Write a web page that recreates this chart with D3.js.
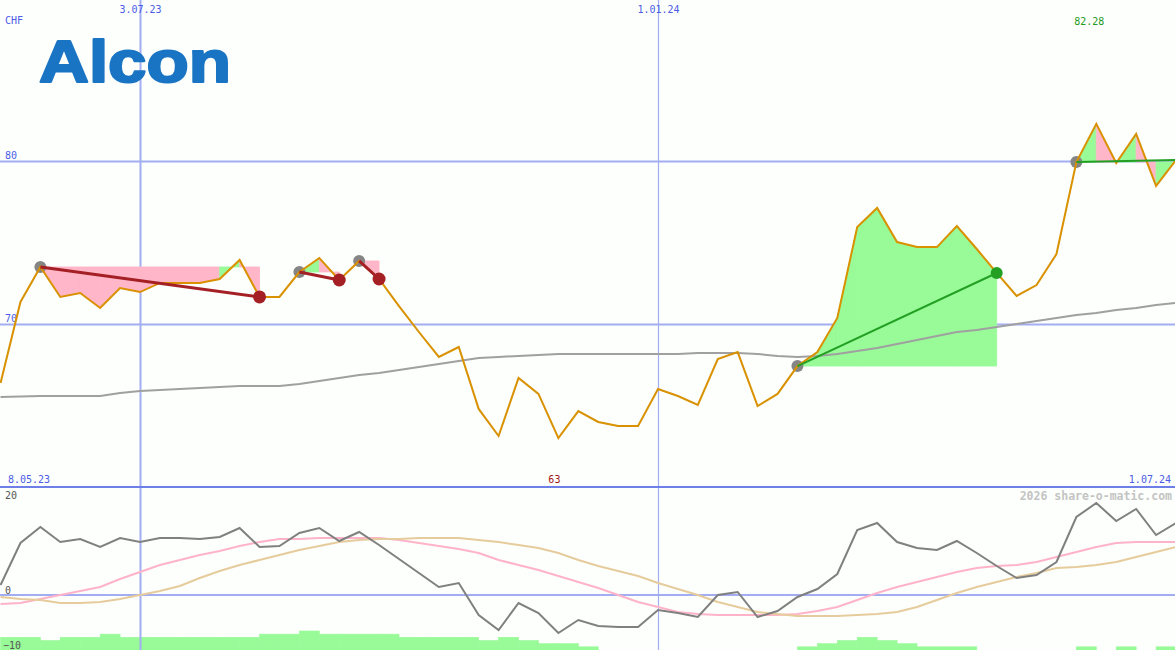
<!DOCTYPE html>
<html><head><meta charset="utf-8">
<script src="https://cdn.jsdelivr.net/npm/d3@7"></script>
<style>html,body{margin:0;padding:0;background:#fcfffc;} svg{display:block;}</style>
</head><body>
<svg id="c" width="1175" height="650"></svg>
<script>
// ---------- data ----------
const startDate = "2023-05-15";   // first weekly point
const price = [66.38, 71.35, 73.50, 71.66, 71.90, 70.98, 72.21, 71.96, 72.52, 72.52,
  72.52, 72.76, 73.93, 71.66, 71.66, 73.19, 74.05, 72.70, 73.87, 72.76,
  71.10, 69.51, 67.98, 68.59, 64.79, 63.13, 66.69, 65.71, 63.00, 64.66,
  63.99, 63.74, 63.74, 66.01, 65.58, 65.03, 67.85, 68.28, 64.97, 65.71,
  67.42, 68.28, 70.37, 75.95, 77.12, 75.03, 74.72, 74.72, 76.01, 74.60,
  73.13, 71.72, 72.39, 74.29, 79.94, 82.28, 79.88, 81.66, 78.47, 80.06];
const movingAvg = [65.52, 65.55, 65.58, 65.58, 65.58, 65.58, 65.77, 65.89, 65.95, 66.01,
  66.07, 66.13, 66.20, 66.20, 66.20, 66.32, 66.50, 66.69, 66.87, 66.99,
  67.18, 67.36, 67.55, 67.73, 67.91, 67.98, 68.04, 68.10, 68.16, 68.16,
  68.16, 68.16, 68.16, 68.16, 68.16, 68.22, 68.22, 68.22, 68.16, 68.04,
  67.98, 68.04, 68.16, 68.34, 68.53, 68.77, 69.02, 69.26, 69.51, 69.63,
  69.82, 70.00, 70.18, 70.37, 70.55, 70.67, 70.86, 70.98, 71.17, 71.29];
const momentum = [2.0, 10.4, 13.6, 10.6, 11.2, 9.6, 11.4, 10.6, 11.4, 11.4,
  11.2, 11.6, 13.4, 9.6, 9.8, 12.4, 13.4, 10.8, 12.6, 10.0,
  7.2, 4.4, 1.6, 2.4, -4.0, -7.0, -1.6, -3.6, -7.6, -5.0,
  -6.2, -6.4, -6.4, -3.0, -3.6, -4.4, 0.0, 0.6, -4.4, -3.2,
  -0.4, 1.2, 4.2, 13.0, 14.4, 10.6, 9.4, 9.0, 10.8, 8.4,
  5.8, 3.4, 4.0, 6.6, 15.6, 18.4, 14.8, 17.2, 12.0, 14.4];
const momFast = [-1.8, -1.6, -0.8, 0.0, 0.8, 1.6, 3.2, 4.6, 6.0, 7.0,
  8.0, 8.8, 9.8, 10.6, 11.2, 11.2, 11.4, 11.4, 11.4, 11.4,
  11.0, 10.4, 9.8, 9.2, 8.4, 7.0, 6.0, 5.0, 3.8, 2.6,
  1.4, 0.0, -1.4, -2.4, -3.4, -3.8, -4.0, -4.0, -4.0, -4.0,
  -3.8, -3.2, -2.4, -1.0, 0.4, 1.6, 2.6, 3.6, 4.6, 5.4,
  5.8, 6.0, 6.6, 7.6, 8.6, 9.6, 10.4, 10.6, 10.6, 10.6];
const momSlow = [-0.4, -0.8, -1.0, -1.6, -1.6, -1.4, -0.8, 0.0, 0.8, 1.8,
  3.4, 4.8, 6.0, 7.0, 8.0, 9.0, 9.8, 10.6, 11.0, 11.2,
  11.2, 11.4, 11.4, 11.4, 11.0, 10.6, 10.0, 9.4, 8.4, 7.0,
  5.8, 4.8, 3.8, 2.4, 1.2, 0.0, -1.4, -2.4, -3.4, -3.8,
  -4.2, -4.2, -4.2, -4.0, -3.8, -3.4, -2.4, -1.0, 0.4, 1.6,
  2.6, 3.6, 4.4, 5.4, 5.6, 6.0, 6.6, 7.6, 8.6, 9.6];
const volumeBars = [4, 4, 3, 4, 4, 5, 4, 4, 4, 4,
  4, 4, 4, 5, 5, 6, 5, 5, 5, 5,
  4, 4, 4, 4, 3, 4, 3, 2, 2, 1,
  0, 0, 0, 0, 0, 0, 0, 0, 0, 0,
  1, 2, 3, 4, 3, 2, 1, 1, 1, 0,
  0, 0, 0, 0, 1, 0, 1, 0, 1, 0];
const tradeEntries = [2, 15, 18, 40, 54];
const tradeExits   = [13, 17, 19, 50, null];
const topTickDates  = ["2023-07-03", "2024-01-01"];
const topTickLabels = ["3.07.23", "1.01.24"];
const priceTicks = [80, 70];
const momTicks = [20, 0, -10];
const currency = "CHF";
const rangeLabels = ["8.05.23", "1.07.24"];
const highLabel = "82.28", lowLabel = "63";
const watermark = "2026 share-o-matic.com";
const logoText = "Alcon";

// ---------- setup ----------
const W = 1175, H = 650;
const parse = d3.utcParse("%Y-%m-%d");
const dates = price.map((_, i) => d3.utcDay.offset(parse(startDate), 7 * i));
const x = d3.scaleUtc().domain([parse("2023-07-03"), parse("2024-01-01")]).range([140, 658]);
const y = d3.scaleLinear().domain([60, 90]).range([487, -2]);
const yM = d3.scaleLinear().domain([-10, 20]).range([645, 495]);
const yB = d3.scaleLinear().domain([0, 6]).range([650, 631]);

const svg = d3.select("#c");
const mono = "'DejaVu Sans Mono', monospace";
const gridCol = "#a3aef2";
const labelBlue = "#4d5ce6";

svg.append("rect").attr("width", W).attr("height", H).attr("fill", "#fcfffc");

// volume-like bars
svg.append("g").selectAll("rect").data(volumeBars.map((v, i) => ({v, i})).filter(d => d.v > 0 && d.i < dates.length - 1))
  .join("rect")
  .attr("x", d => x(dates[d.i]))
  .attr("width", d => x(dates[d.i + 1]) - x(dates[d.i]))
  .attr("y", d => yB(d.v))
  .attr("height", d => yB(0) - yB(d.v))
  .attr("fill", "#98fb98").attr("stroke", "#98fb98").attr("stroke-width", 0.6);

// horizontal price grid with labels
const gy = svg.append("g").call(d3.axisRight(y).tickValues(priceTicks).tickSize(W).tickFormat(d3.format("d")));
gy.select(".domain").remove();
gy.selectAll(".tick line").attr("stroke", gridCol).attr("stroke-width", 2);
gy.selectAll(".tick text").attr("x", 5).attr("dy", "-0.3em").attr("fill", labelBlue)
  .style("font-family", mono).style("font-size", "10px");

// lower panel zero line
svg.append("line").attr("x1", 0).attr("x2", W).attr("y1", yM(0)).attr("y2", yM(0))
  .attr("stroke", gridCol).attr("stroke-width", 2);

// vertical date lines + top labels
const gx = svg.append("g").call(d3.axisTop(x).tickValues(topTickDates.map(parse)).tickSizeInner(-H).tickSizeOuter(0)
  .tickFormat((d, i) => topTickLabels[i]));
gx.select(".domain").remove();
gx.selectAll(".tick line").attr("stroke", gridCol).attr("stroke-width", (d, i) => i === 0 ? 2 : 1.2);
gx.selectAll(".tick text").attr("y", 13).attr("dy", 0).attr("fill", labelBlue)
  .style("font-family", mono).style("font-size", "10px");

// panel divider
svg.append("line").attr("x1", 0).attr("x2", W).attr("y1", y(60)).attr("y2", y(60))
  .attr("stroke", "#6f7fe8").attr("stroke-width", 2);

// lower panel lines
const lm = arr => d3.line().x((d, i) => x(dates[i])).y(d => yM(d))(arr);
svg.append("path").attr("d", lm(momFast)).attr("fill", "none").attr("stroke", "#ffb3c9").attr("stroke-width", 2);
svg.append("path").attr("d", lm(momSlow)).attr("fill", "none").attr("stroke", "#e6cc9c").attr("stroke-width", 2);
svg.append("path").attr("d", lm(momentum)).attr("fill", "none").attr("stroke", "#808080").attr("stroke-width", 2);

// lower panel labels
const gm = svg.append("g").call(d3.axisRight(yM).tickValues(momTicks).tickSize(0).tickFormat(d3.format("d")));
gm.select(".domain").remove();
gm.selectAll(".tick text").attr("x", d => d < 0 ? 3 : 5).attr("dy", d => d === 20 ? "0.35em" : (d === 0 ? "-0.2em" : "0.3em"))
  .attr("fill", "#555").style("font-family", mono).style("font-size", "10px");

// trade fills
const lastIdx = price.length - 1;
const trades = tradeEntries.map((e, k) => ({entry: e, exit: tradeExits[k], end: tradeExits[k] === null ? lastIdx : tradeExits[k]}));
const fillG = svg.append("g");
trades.forEach(t => {
  const lvl = price[t.entry];
  for (let j = t.entry; j < t.end; j++) {
    const pts = [[x(dates[j]), y(lvl)], [x(dates[j]), y(price[j])], [x(dates[j + 1]), y(price[j + 1])], [x(dates[j + 1]), y(lvl)]];
    const col = price[j + 1] > lvl ? "#98fb98" : "#ffb6c8";
    fillG.append("path").attr("d", d3.line()(pts) + "Z")
      .attr("fill", col).attr("stroke", col).attr("stroke-width", 0.8).attr("stroke-linejoin", "bevel");
  }
});

// moving average
svg.append("path").attr("d", d3.line().x((d, i) => x(dates[i])).y(d => y(d))(movingAvg))
  .attr("fill", "none").attr("stroke", "#a0a0a0").attr("stroke-width", 2);

// entry circles
svg.append("g").selectAll("circle").data(trades).join("circle")
  .attr("cx", t => x(dates[t.entry])).attr("cy", t => y(price[t.entry])).attr("r", 6).attr("fill", "#858585");

// price line
svg.append("path").attr("d", d3.line().x((d, i) => x(dates[i])).y(d => y(d))(price))
  .attr("fill", "none").attr("stroke", "#d99100").attr("stroke-width", 2).attr("stroke-linejoin", "miter");

// trade lines
const tcol = t => price[t.end] > price[t.entry] ? "#23a023" : "#a52025";
svg.append("g").selectAll("line").data(trades).join("line")
  .attr("x1", t => x(dates[t.entry])).attr("y1", t => y(price[t.entry]))
  .attr("x2", t => x(dates[t.end])).attr("y2", t => y(price[t.end]))
  .attr("stroke", tcol).attr("stroke-width", t => price[t.end] > price[t.entry] ? 2 : 3);

// exit circles
svg.append("g").selectAll("circle").data(trades.filter(t => t.exit !== null)).join("circle")
  .attr("cx", t => x(dates[t.exit])).attr("cy", t => y(price[t.exit])).attr("r", t => price[t.exit] > price[t.entry] ? 6 : 6.5)
  .attr("fill", tcol);

// texts
const txt = (s, tx, ty, anchor, fill, extra) => {
  const t = svg.append("text").text(s).attr("x", tx).attr("y", ty).attr("text-anchor", anchor)
    .attr("fill", fill).style("font-family", mono).style("font-size", "10px");
  if (extra) extra(t);
  return t;
};
txt(currency, 5, 24, "start", labelBlue);
txt(rangeLabels[0], 8, 483, "start", labelBlue);
txt(rangeLabels[1], 1171, 483, "end", labelBlue);
const hiI = price.indexOf(d3.max(price)), loI = price.indexOf(d3.min(price));
txt(highLabel, x(dates[hiI]) - 7, 25, "middle", "#1f9a1f");
txt(lowLabel, x(dates[loI]) - 4, 483, "middle", "#a31515");
txt(watermark, 1172, 500, "end", "#c4c4c4", t => t.style("font-weight", "bold").style("font-size", "11.5px"));

// logo
svg.append("text").text(logoText).attr("x", 39).attr("y", 82)
  .attr("textLength", 192).attr("lengthAdjust", "spacingAndGlyphs")
  .attr("fill", "#1a74c4").attr("stroke", "#1a74c4").attr("stroke-width", 2.2).attr("stroke-linejoin", "round")
  .style("font-family", "'Liberation Sans', Arial, sans-serif").style("font-weight", "bold").style("font-size", "60px");
</script>
</body></html>
